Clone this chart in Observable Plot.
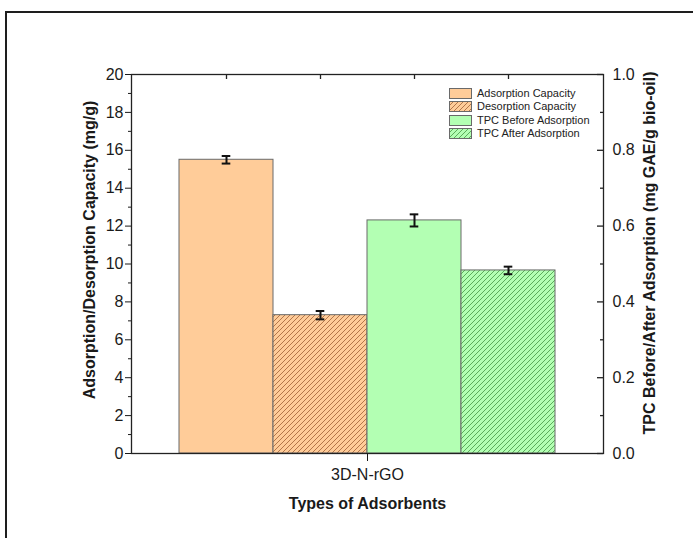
<!DOCTYPE html>
<html>
<head>
<meta charset="utf-8">
<script src="https://cdn.jsdelivr.net/npm/d3@7"></script>
<script src="https://cdn.jsdelivr.net/npm/@observablehq/plot@0.6"></script>
<style>
  html, body { margin: 0; padding: 0; background: #fff; overflow: hidden; }
  body { width: 693px; height: 538px; position: relative; font-family: "Liberation Sans", Arial, sans-serif; }
  #outer { position: absolute; left: 5px; top: 11px; width: 800px; height: 700px; border: 2px solid #1e1e1e; box-sizing: border-box; }
  #chart { position: absolute; left: 0; top: 0; }
  #chart svg g[aria-label$="tick label"] text { font-size: 16px; }
  #legend { position: absolute; left: 449px; top: 87px; font-size: 11px; color: #222; line-height: 13.3px; }
  #legend .row { display: flex; align-items: center; height: 13.3px; }
  #legend svg { margin-right: 4px; }
</style>
</head>
<body>
<svg width="0" height="0" style="position:absolute">
  <defs>
    <pattern id="solidOrange" patternUnits="userSpaceOnUse" width="5" height="5">
      <rect width="5" height="5" fill="#FFCC99"/>
    </pattern>
    <pattern id="hatchOrange" patternUnits="userSpaceOnUse" width="5" height="5">
      <rect width="5" height="5" fill="#FFCC99"/>
      <path d="M-1,1 L1,-1 M0,5 L5,0 M4,6 L6,4" stroke="#9a5a30" stroke-width="0.75"/>
    </pattern>
    <pattern id="solidGreen" patternUnits="userSpaceOnUse" width="5" height="5">
      <rect width="5" height="5" fill="#B3FFB3"/>
    </pattern>
    <pattern id="hatchGreen" patternUnits="userSpaceOnUse" width="5" height="5">
      <rect width="5" height="5" fill="#B3FFB3"/>
      <path d="M-1,1 L1,-1 M0,5 L5,0 M4,6 L6,4" stroke="#3f8f3f" stroke-width="0.75"/>
    </pattern>
  </defs>
</svg>
<div id="outer"></div>
<div id="chart"></div>
<div id="legend"></div>
<script>
// ---- data ----
const adsorbents = ["3D-N-rGO"];
const seriesNames = ["Adsorption Capacity", "Desorption Capacity", "TPC Before Adsorption", "TPC After Adsorption"];
const capacityValues = [15.5, 7.3];      // mg/g (left axis)
const capacityErrors = [0.2, 0.22];
const tpcValues = [0.615, 0.483];        // mg GAE/g bio-oil (right axis)
const tpcErrors = [0.016, 0.01];
const leftTicks = [0, 2, 4, 6, 8, 10, 12, 14, 16, 18, 20];
const leftMinorTicks = [1, 3, 5, 7, 9, 11, 13, 15, 17, 19];
const rightTicks = [0.0, 0.2, 0.4, 0.6, 0.8, 1.0];
const rightMinorTicks = [0.1, 0.3, 0.5, 0.7, 0.9];
const seriesFills = ["url(#solidOrange)", "url(#hatchOrange)", "url(#solidGreen)", "url(#hatchGreen)"];
const leftTitle = "Adsorption/Desorption Capacity (mg/g)";
const rightTitle = "TPC Before/After Adsorption (mg GAE/g bio-oil)";
const xTitle = "Types of Adsorbents";

// ---- layout ----
const W = 693, H = 538;
const mL = 131, mR = 90, mT = 74, mB = 85;
const plotW = W - mL - mR, plotH = H - mT - mB;
const leftMax = 20, rightMax = 1.0;
const k = leftMax / rightMax;      // right-axis units -> left-axis units
const band = plotW / (seriesNames.length + 1);
const capW = 9;
const capInset = (band - capW) / 2;

const rows = seriesNames.map((s, i) => {
  const isCap = i < 2;
  const v = isCap ? capacityValues[i] : tpcValues[i - 2] * k;
  const e = isCap ? capacityErrors[i] : tpcErrors[i - 2] * k;
  return {adsorbent: adsorbents[0], series: s, value: v, lo: v - e, hi: v + e, fill: seriesFills[i]};
});

const titleStyle = {fontWeight: "bold", fontSize: 16, fill: "#1a1a1a", lineAnchor: "middle", textAnchor: "middle", text: d => d};

const chart = Plot.plot({
  width: W, height: H,
  marginLeft: mL, marginRight: mR, marginTop: mT, marginBottom: mB,
  style: {fontFamily: "'Liberation Sans', Arial, sans-serif", fontSize: "16px", color: "#1a1a1a", background: "transparent"},
  fx: {domain: adsorbents, padding: 0},
  x: {domain: seriesNames, paddingInner: 0, paddingOuter: 0.5, align: 0.5, axis: null},
  y: {domain: [0, leftMax]},
  color: {type: "identity"},
  marks: [
    Plot.barY(rows, {fx: "adsorbent", x: "series", y: "value", fill: "fill", stroke: "#6a6a6a", strokeWidth: 1}),
    Plot.ruleX(rows, {fx: "adsorbent", x: "series", y1: "lo", y2: "hi", stroke: "#111", strokeWidth: 2}),
    Plot.tickY(rows, {fx: "adsorbent", x: "series", y: "lo", insetLeft: capInset, insetRight: capInset, stroke: "#111", strokeWidth: 2}),
    Plot.tickY(rows, {fx: "adsorbent", x: "series", y: "hi", insetLeft: capInset, insetRight: capInset, stroke: "#111", strokeWidth: 2}),
    Plot.frame({stroke: "#222", strokeWidth: 1.3}),
    // top inward ticks at band centres
    Plot.tickX(seriesNames, {x: d => d, insetBottom: plotH - 5, stroke: "#222", strokeWidth: 1.3}),
    // left axis
    Plot.axisY({ticks: leftTicks, tickSize: 6, tickPadding: 2, label: null}),
    Plot.axisY({ticks: leftMinorTicks, tickSize: 3, tickFormat: () => "", label: null}),
    // right axis (inward ticks)
    Plot.tickY(rightTicks, {y: d => d * k, insetLeft: plotW - 6, stroke: "#222", strokeWidth: 1.3}),
    Plot.tickY(rightMinorTicks, {y: d => d * k, insetLeft: plotW - 3, stroke: "#222", strokeWidth: 1.3}),
    Plot.axisY({anchor: "right", ticks: rightTicks.map(d => d * k), tickSize: 0, tickPadding: 9,
      tickFormat: d => (d / k).toFixed(1), label: null}),
    // bottom facet axis
    Plot.axisFx({anchor: "bottom", tickSize: 8, tickPadding: 7, label: null}),
    // axis titles
    Plot.text([leftTitle], {...titleStyle, frameAnchor: "left", rotate: -90, dx: -42, dy: -14}),
    Plot.text([rightTitle], {...titleStyle, frameAnchor: "right", rotate: -90, dx: 46, dy: -11}),
    Plot.text([xTitle], {...titleStyle, frameAnchor: "bottom", dy: 50})
  ]
});
document.getElementById("chart").appendChild(chart);

// ---- legend ----
const legend = document.getElementById("legend");
seriesNames.forEach((s, i) => {
  const row = document.createElement("div");
  row.className = "row";
  row.innerHTML = `<svg width="24" height="11"><rect x="0.5" y="0.5" width="22" height="10" fill="${seriesFills[i]}" stroke="#6a6a6a"/></svg><span>${s}</span>`;
  legend.appendChild(row);
});
</script>
</body>
</html>
